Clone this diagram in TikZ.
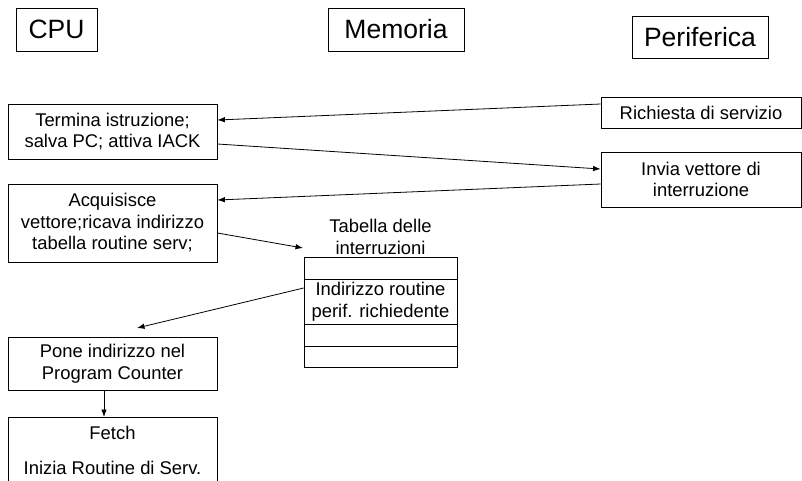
\documentclass[tikz,border=0pt]{standalone}
\usepackage{fontspec}
\setmainfont{Liberation Sans}
\usetikzlibrary{arrows.meta}
\begin{document}
\begin{tikzpicture}[x=1pt,y=-1pt,
  box/.style={draw, line width=0.8pt, inner sep=0pt, align=center, font=\fontsize{18.4}{21.5}\selectfont},
  title/.style={draw, line width=0.8pt, inner sep=0pt, font=\fontsize{26.5}{30}\selectfont},
  txt/.style={inner sep=0pt, align=center, font=\fontsize{18.4}{21.5}\selectfont},
  cell/.style={draw, line width=0.8pt, inner sep=0pt, align=center, minimum width=153pt, font=\fontsize{18.4}{21.5}\selectfont},
  arr/.style={-{Latex[length=7.5pt,width=5.5pt]}, line width=0.8pt}]
\useasboundingbox (0,0) rectangle (802,480);
% titles
\node[title, minimum width=81pt, minimum height=43pt] (cpu) at (56.5,29.5) {CPU};
\node[title, minimum width=136pt, minimum height=43pt] (mem) at (396,29.5) {Memoria};
\node[title, minimum width=136pt, minimum height=42pt] (per) at (700,37) {Periferica};
% CPU column
\node[box, minimum width=209pt, minimum height=55pt] (term) at (112.5,131.5) {Termina istruzione;\\salva PC; attiva IACK};
\node[box, minimum width=209pt, minimum height=78pt] (acq) at (112.5,223) {Acquisisce\\vettore;ricava indirizzo\\tabella routine serv;};
\node[box, minimum width=209pt, minimum height=53pt] (pone) at (112.5,363.5) {Pone indirizzo nel\\Program Counter};
\node[box, minimum width=209pt, minimum height=75pt, anchor=north] (fetch) at (112.5,417) {};
\node[txt] (fetchA) at (112.5,433) {Fetch};
\node[txt] (fetchB) at (112.5,468) {Inizia Routine di Serv.};
% Periferica column
\node[box, minimum width=200pt, minimum height=31pt] (rich) at (701,112.5) {Richiesta di servizio};
\node[box, minimum width=200pt, minimum height=55pt] (invia) at (701,179.5) {Invia vettore di\\interruzione};
% table
\node[txt] (tabt) at (380.5,237) {Tabella delle\\interruzioni};
\node[cell, minimum height=22pt] (r1) at (380.5,268) {};
\node[cell, minimum height=45pt] (r2) at (380.5,301.5) {Indirizzo routine\\perif. richiedente};
\node[cell, minimum height=22pt] (r3) at (380.5,335) {};
\node[cell, minimum height=21pt] (r4) at (380.5,356.5) {};
\coordinate (tabtip) at (303,248);
\coordinate (ponetip) at (137,328);
% connectors
\draw[arr] ([yshift=8.5pt]rich.west) -- ([yshift=11.5pt]term.east);
\draw[arr] ([yshift=-12.5pt]term.east) -- ([yshift=10.5pt]invia.west);
\draw[arr] ([yshift=-4.5pt]invia.west) -- ([yshift=23pt]acq.east);
\draw[arr] ([yshift=-10pt]acq.east) -- (tabtip);
\draw[arr] ([yshift=13.5pt]r2.west) -- (ponetip);
\draw[arr] ([xshift=-8.5pt]pone.south) -- ([xshift=-8.5pt]fetch.north);
\end{tikzpicture}
\end{document}
